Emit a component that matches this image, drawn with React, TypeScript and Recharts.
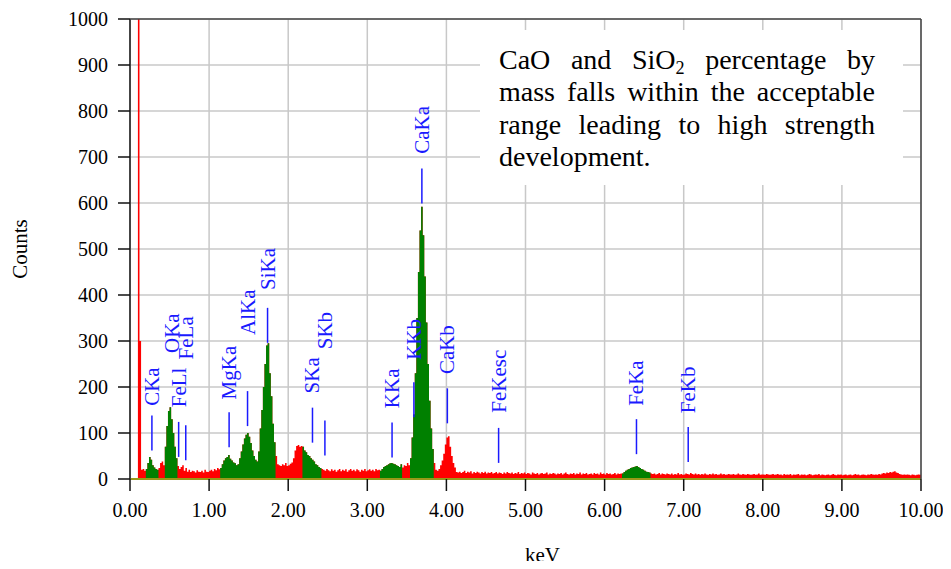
import { ComposedChart, Area, Scatter, XAxis, YAxis, CartesianGrid, ReferenceLine, Label } from 'recharts';

const SERIF = "'Liberation Serif', 'Times New Roman', serif";

// channel width of the spectrum (keV), channel 0 = 0.00 keV
const KEV_STEP = 0.02;

// counts per channel, 10 channels (0.2 keV) per row
const COUNTS = [
  0, 0, 0, 0, 0, 2000, 300, 20, 22, 18,
  22, 35, 48, 42, 30, 25, 22, 20, 24, 35,
  38, 30, 70, 115, 148, 156, 130, 100, 70, 45,
  28, 22, 26, 30, 18, 24, 16, 20, 15, 18,
  17, 14, 19, 16, 15, 18, 14, 20, 16, 15,
  18, 20, 17, 22, 19, 24, 21, 24, 32, 40,
  45, 48, 52, 44, 40, 36, 34, 30, 32, 45,
  60, 75, 88, 96, 100, 92, 78, 62, 50, 42,
  38, 60, 110, 150, 200, 250, 290, 295, 230, 180,
  120, 80, 50, 32, 30, 28, 32, 30, 35, 28,
  30, 33, 36, 45, 62, 72, 74, 70, 72, 70,
  62, 58, 52, 50, 45, 42, 38, 32, 30, 26,
  24, 22, 20, 18, 22, 19, 17, 21, 18, 20,
  16, 19, 22, 17, 20, 18, 21, 16, 19, 22,
  18, 20, 17, 21, 19, 16, 20, 18, 22, 17,
  19, 21, 18, 20, 17, 22, 19, 20, 18, 22,
  26, 28, 30, 32, 34, 35, 33, 32, 30, 28,
  26, 32, 25, 30, 28, 35, 30, 45, 90, 140,
  230, 350, 450, 540, 592, 530, 440, 340, 250, 170,
  110, 65, 35, 20, 18, 22, 30, 40, 55, 75,
  90, 93, 70, 50, 35, 25, 15, 14, 16, 13,
  15, 18, 13, 16, 14, 17, 12, 15, 13, 16,
  14, 12, 15, 13, 16, 12, 14, 13, 15, 12,
  13, 15, 12, 14, 13, 11, 14, 12, 15, 13,
  12, 14, 11, 13, 12, 15, 11, 13, 12, 14,
  11, 13, 12, 10, 14, 12, 11, 13, 10, 12,
  13, 11, 12, 14, 10, 12, 11, 13, 12, 10,
  12, 11, 13, 10, 12, 14, 11, 10, 12, 11,
  13, 10, 12, 11, 14, 10, 12, 11, 13, 10,
  11, 12, 10, 13, 11, 12, 10, 14, 11, 12,
  10, 13, 11, 12, 10, 11, 13, 10, 12, 11,
  12, 12, 15, 18, 20, 22, 24, 25, 26, 27,
  28, 26, 24, 22, 20, 18, 16, 15, 14, 12,
  11, 12, 10, 11, 13, 10, 12, 11, 10, 12,
  11, 10, 12, 9, 11, 10, 13, 10, 11, 9,
  10, 12, 11, 10, 13, 11, 10, 12, 10, 11,
  9, 11, 10, 12, 10, 9, 11, 10, 12, 10,
  11, 9, 10, 12, 10, 11, 9, 10, 11, 10,
  10, 11, 9, 10, 12, 10, 9, 11, 10, 9,
  11, 10, 9, 10, 11, 9, 10, 12, 9, 10,
  10, 9, 11, 10, 9, 10, 11, 9, 10, 11,
  9, 10, 8, 11, 9, 10, 9, 11, 8, 10,
  9, 10, 11, 8, 10, 9, 10, 8, 9, 11,
  10, 8, 9, 10, 9, 11, 8, 10, 9, 8,
  9, 10, 8, 9, 11, 9, 8, 10, 9, 10,
  8, 9, 10, 8, 9, 10, 8, 9, 11, 9,
  10, 8, 9, 10, 9, 8, 10, 9, 11, 10,
  9, 10, 9, 11, 10, 12, 13, 12, 14, 13,
  15, 14, 16, 17, 14, 13, 11, 10, 9, 10,
  9, 10, 9, 8, 10, 9, 8, 9, 10, 9,
  8,
];

// regions of interest (green) in keV
const ROI_START = [0.19, 0.43, 1.13, 2.17, 3.15, 3.53, 6.21];
const ROI_END = [0.37, 0.61, 1.85, 2.43, 3.45, 3.85, 6.59];

// peak markers
const LINE_NAMES = ['CKa', 'OKa', 'FeLl', 'FeLa', 'MgKa', 'AlKa', 'SiKa', 'SKa', 'SKb', 'KKa', 'KKb', 'CaKa', 'CaKb', 'FeKesc', 'FeKa', 'FeKb'];
const LINE_KEV = [0.277, 0.525, 0.615, 0.705, 1.253, 1.486, 1.739, 2.307, 2.464, 3.313, 3.589, 3.69, 4.012, 4.66, 6.403, 7.057];
const LINE_BASE = [62, 167, 48, 41, 69, 115, 296, 79, 51, 47, 134, 599, 121, 35, 54, 37];
const LABEL_BASE = [159, 274, 156, 260, 173, 313, 411, 186, 282, 154, 259, 707, 228, 144, 159, 143];
const NO_LINE = ['OKa'];

const X_TICKS = [0, 1, 2, 3, 4, 5, 6, 7, 8, 9, 10];
const Y_TICKS = [0, 100, 200, 300, 400, 500, 600, 700, 800, 900, 1000];

const spectrum = COUNTS.map((c, i) => {
  const kev = +(i * KEV_STEP).toFixed(2);
  const inRoi = ROI_START.some((s, k) => kev >= s && kev < ROI_END[k]);
  return { kev, total: c, roi: inRoi ? c : null };
});

const markerLines = LINE_NAMES.map((name, i) => ({ name, kev: LINE_KEV[i], y: LINE_BASE[i] }));
const markerTexts = LINE_NAMES.map((name, i) => ({ name, kev: LINE_KEV[i], y: LABEL_BASE[i] }));

const BLUE = '#1a1aff';

function LineShape(props: any) {
  const { cx, cy, payload } = props;
  if (NO_LINE.includes(payload.name)) return <g />;
  return <line x1={cx} x2={cx} y1={cy} y2={cy - 35} stroke={BLUE} strokeWidth={1.5} />;
}

function TextShape(props: any) {
  const { cx, cy, payload } = props;
  return (
    <text
      transform={`translate(${cx},${cy}) rotate(-90)`}
      textAnchor="start"
      dominantBaseline="central"
      fill={BLUE}
      fontSize={21}
      fontFamily={SERIF}
    >
      {payload.name}
    </text>
  );
}

const renderKev = (p: any) => {
  const vb = p.viewBox;
  return (
    <text x={vb.x + vb.width / 2 + 17} y={vb.y + 83} textAnchor="middle" fontSize={21} fontFamily={SERIF} fill="#000">
      keV
    </text>
  );
};

const renderCounts = (p: any) => {
  const vb = p.viewBox;
  const cy = vb.y + vb.height / 2;
  return (
    <text transform={`translate(${vb.x - 50},${cy}) rotate(-90)`} textAnchor="middle" dominantBaseline="central" fontSize={21} fontFamily={SERIF} fill="#000">
      Counts
    </text>
  );
};

const BOX_LINES = [
  ['CaO and SiO', '2', ' percentage by'],
  ['mass falls within the acceptable'],
  ['range leading to high strength'],
  ['development.'],
];

export default function App() {
  return (
    <div style={{ position: 'relative', width: 951, height: 569, margin: -8, fontFamily: SERIF, background: '#fff' }}>
      <ComposedChart width={951} height={569} data={spectrum} margin={{ top: 19, right: 30, left: 70, bottom: 40 }}>
        <CartesianGrid stroke="#c8c8c8" strokeWidth={1.5} />
        <XAxis
          type="number"
          dataKey="kev"
          domain={[0, 10]}
          ticks={X_TICKS}
          tickFormatter={(v) => Number(v).toFixed(2)}
          tickSize={12}
          tickMargin={12}
          height={50}
          axisLine={{ stroke: '#333', strokeWidth: 1 }}
          tickLine={{ stroke: '#111', strokeWidth: 1.5 }}
          tick={{ fill: '#000', fontSize: 20, fontFamily: SERIF }}
          allowDataOverflow
        >
          <Label content={renderKev} />
        </XAxis>
        <YAxis
          type="number"
          domain={[0, 1000]}
          ticks={Y_TICKS}
          width={60}
          tickSize={12}
          tickMargin={10}
          axisLine={{ stroke: '#444', strokeWidth: 2 }}
          tickLine={{ stroke: '#111', strokeWidth: 1.5 }}
          tick={{ fill: '#000', fontSize: 20, fontFamily: SERIF }}
          allowDataOverflow
        >
          <Label content={renderCounts} />
        </YAxis>
        <Area dataKey="total" type="stepAfter" fill="#ff0000" fillOpacity={1} stroke="none" isAnimationActive={false} />
        <Area dataKey="roi" type="stepAfter" fill="#008000" fillOpacity={1} stroke="none" isAnimationActive={false} />
        <ReferenceLine y={0} stroke="#ffff00" strokeWidth={2} />
        <ReferenceLine y={1000} stroke="#444" strokeWidth={1.5} />
        <ReferenceLine x={10} stroke="#444" strokeWidth={1.5} />
        <Scatter data={markerLines} dataKey="y" shape={LineShape} isAnimationActive={false} legendType="none" />
        <Scatter data={markerTexts} dataKey="y" shape={TextShape} isAnimationActive={false} legendType="none" />
      </ComposedChart>
      <div style={{ position: 'absolute', left: 480, top: 30, width: 423, height: 155, background: '#fff' }} />
      <div style={{ position: 'absolute', left: 499, top: 44, width: 376, fontSize: 28, lineHeight: '32.3px', color: '#000' }}>
        {BOX_LINES.map((parts, i) => (
          <div
            key={i}
            style={{ textAlign: 'justify', textAlignLast: i < BOX_LINES.length - 1 ? 'justify' : 'left', whiteSpace: 'nowrap' }}
          >
            {parts.length === 3 ? (
              <>
                {parts[0]}
                <span style={{ fontSize: '0.65em', verticalAlign: '-0.25em', lineHeight: 0 }}>{parts[1]}</span>
                {parts[2]}
              </>
            ) : (
              parts[0]
            )}
          </div>
        ))}
      </div>
    </div>
  );
}
